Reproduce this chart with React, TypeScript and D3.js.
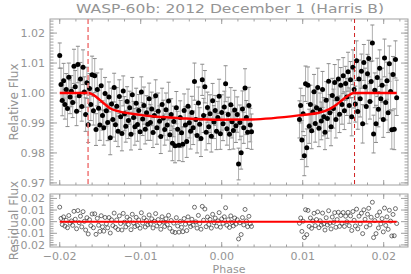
import React from 'react';
import * as d3 from 'd3';

const TITLE = 'WASP-60b: 2012 December 1 (Harris B)';

// pre-gap part of the light curve
const PHASE_A = [
  -0.02000, -0.01984, -0.01968, -0.01952, -0.01936, -0.01920, -0.01904, -0.01888, -0.01872, -0.01856,
  -0.01840, -0.01824, -0.01808, -0.01792, -0.01776, -0.01760, -0.01744, -0.01728, -0.01712, -0.01696,
  -0.01680, -0.01664, -0.01648, -0.01632, -0.01616, -0.01600, -0.01584, -0.01568, -0.01552, -0.01536,
  -0.01520, -0.01504, -0.01488, -0.01472, -0.01456, -0.01440, -0.01424, -0.01408, -0.01392, -0.01376,
  -0.01360, -0.01344, -0.01328, -0.01312, -0.01296, -0.01280, -0.01264, -0.01248, -0.01232, -0.01216,
  -0.01200, -0.01184, -0.01168, -0.01152, -0.01136, -0.01120, -0.01104, -0.01088, -0.01072, -0.01056,
  -0.01040, -0.01024, -0.01008, -0.00992, -0.00976, -0.00960, -0.00944, -0.00928, -0.00912, -0.00896,
  -0.00880, -0.00864, -0.00848, -0.00832, -0.00816, -0.00800, -0.00784, -0.00768, -0.00752, -0.00736,
  -0.00720, -0.00704, -0.00688, -0.00672, -0.00656, -0.00640, -0.00624, -0.00608, -0.00592, -0.00576,
  -0.00560, -0.00544, -0.00528, -0.00512, -0.00496, -0.00480, -0.00464, -0.00448, -0.00432, -0.00416,
  -0.00400, -0.00384, -0.00368, -0.00352, -0.00336, -0.00320, -0.00304, -0.00288, -0.00272, -0.00256,
  -0.00240, -0.00224, -0.00208, -0.00192, -0.00176, -0.00160, -0.00144, -0.00128, -0.00112, -0.00096,
  -0.00080, -0.00064, -0.00048, -0.00032, -0.00016, 0.00000, 0.00016, 0.00032, 0.00048, 0.00064,
  0.00080, 0.00096, 0.00112, 0.00128, 0.00144, 0.00160, 0.00176, 0.00192, 0.00208, 0.00224,
  0.00240, 0.00256, 0.00272, 0.00288, 0.00304, 0.00320, 0.00336, 0.00352, 0.00368,
];
const FLUX_A = [
  1.0125, 1.0028, 0.9975, 1.0041, 0.9962, 1.0012, 0.9948, 1.0053, 0.9987, 1.0006,
  0.9968, 1.0089, 1.0021, 0.9939, 1.0095, 0.9991, 1.0047, 0.9955, 1.0086, 1.0003,
  0.9928, 1.0034, 0.9894, 1.0015, 0.9962, 1.0061, 0.9941, 1.0058, 0.9878, 1.0012,
  0.9949, 0.9893, 1.0024, 0.9925, 0.9884, 0.9998, 0.9941, 0.9902, 0.9987, 0.9851,
  0.9963, 0.9912, 1.0018, 0.9894, 0.9956, 0.9872, 0.9988, 0.9921, 0.9865, 1.0007,
  0.9931, 0.9889, 0.9972, 0.9908, 0.9951, 0.9862, 0.9994, 0.9918, 0.9887, 0.9966,
  0.9895, 0.9942, 0.9871, 1.0003, 0.9913, 0.9958, 0.9879, 0.9934, 0.9896, 0.9981,
  0.9902, 0.9947, 0.9868, 0.9925, 0.9991, 0.9884, 0.9939, 0.9906, 0.9855, 0.9962,
  0.9917, 0.9878, 0.9944, 0.9893, 0.9973, 0.9861, 0.9928, 0.9832, 0.9905, 0.9824,
  0.9951, 0.9879, 0.9826, 0.9918, 0.9867, 0.9829, 0.9942, 0.9893, 0.9838, 0.9956,
  0.9901, 0.9872, 0.9935, 0.9884, 1.0038, 0.9912, 0.9858, 0.9967, 0.9896, 0.9848,
  1.0044, 0.9925, 1.0021, 0.9869, 0.9952, 0.9887, 0.9931, 0.9856, 0.9974, 0.9903,
  0.9942, 0.9872, 0.9918, 0.9989, 0.9864, 0.9935, 0.9897, 0.9953, 1.0031, 0.9881,
  0.9928, 0.9862, 0.9961, 0.9904, 0.9875, 0.9943, 0.9891, 0.9928, 0.9763, 0.9902,
  0.9801, 0.9947, 0.9884, 1.0017, 0.9918, 0.9869, 0.9958, 0.9893, 0.9871,
];
const ERR_A = [
  0.0042, 0.0055, 0.0051, 0.0058, 0.0049, 0.0053, 0.0060, 0.0047, 0.0056, 0.0052,
  0.0050, 0.0057, 0.0054, 0.0048, 0.0061, 0.0053, 0.0055, 0.0049, 0.0058, 0.0051,
  0.0056, 0.0052, 0.0059, 0.0050, 0.0054, 0.0062, 0.0048, 0.0057, 0.0053, 0.0055,
  0.0060, 0.0051, 0.0056, 0.0049, 0.0058, 0.0054, 0.0052, 0.0061, 0.0050, 0.0057,
  0.0053, 0.0059, 0.0048, 0.0055, 0.0062, 0.0051, 0.0056, 0.0054, 0.0058, 0.0050,
  0.0057, 0.0053, 0.0049, 0.0060, 0.0055, 0.0052, 0.0058, 0.0054, 0.0061, 0.0050,
  0.0056, 0.0053, 0.0059, 0.0051, 0.0055, 0.0062, 0.0049, 0.0057, 0.0054, 0.0052,
  0.0060, 0.0056, 0.0050, 0.0058, 0.0053, 0.0055, 0.0061, 0.0051, 0.0057, 0.0054,
  0.0059, 0.0052, 0.0056, 0.0050, 0.0063, 0.0055, 0.0053, 0.0058, 0.0051, 0.0057,
  0.0054, 0.0060, 0.0052, 0.0056, 0.0049, 0.0058, 0.0055, 0.0061, 0.0053, 0.0057,
  0.0051, 0.0059, 0.0054, 0.0056, 0.0062, 0.0050, 0.0058, 0.0053, 0.0055, 0.0060,
  0.0052, 0.0057, 0.0054, 0.0059, 0.0051, 0.0056, 0.0063, 0.0053, 0.0058, 0.0055,
  0.0050, 0.0061, 0.0054, 0.0057, 0.0052, 0.0059, 0.0056, 0.0053, 0.0060, 0.0055,
  0.0058, 0.0051, 0.0057, 0.0054, 0.0062, 0.0066, 0.0056, 0.0059, 0.0053, 0.0058,
  0.0055, 0.0060, 0.0052, 0.0064, 0.0057, 0.0054, 0.0061, 0.0056, 0.0059,
];

// post-gap part
const PHASE_B = [
  0.00960, 0.00975, 0.00990, 0.01005, 0.01020, 0.01035, 0.01050, 0.01065, 0.01080, 0.01095,
  0.01110, 0.01125, 0.01140, 0.01155, 0.01170, 0.01185, 0.01200, 0.01215, 0.01230, 0.01245,
  0.01260, 0.01275, 0.01290, 0.01305, 0.01320, 0.01335, 0.01350, 0.01365, 0.01380, 0.01395,
  0.01410, 0.01425, 0.01440, 0.01455, 0.01470, 0.01485, 0.01500, 0.01515, 0.01530, 0.01545,
  0.01560, 0.01575, 0.01590, 0.01605, 0.01620, 0.01635, 0.01650, 0.01665, 0.01680, 0.01695,
  0.01710, 0.01725, 0.01740, 0.01755, 0.01770, 0.01785, 0.01800, 0.01815, 0.01830, 0.01845,
  0.01860, 0.01875, 0.01890, 0.01905, 0.01920, 0.01935, 0.01950, 0.01965, 0.01980, 0.01995,
  0.02010, 0.02025, 0.02040, 0.02055, 0.02070, 0.02085, 0.02100, 0.02115, 0.02130, 0.02145,
  0.02160,
];
const FLUX_B = [
  0.9912, 0.9958, 0.9843, 0.9931, 0.9791, 1.0031, 0.9817, 1.0026, 0.9889, 0.9962,
  0.9874, 0.9937, 1.0004, 0.9898, 0.9951, 1.0018, 0.9882, 0.9943, 0.9907, 1.0012,
  0.9921, 0.9869, 0.9976, 0.9915, 1.0039, 0.9934, 0.9887, 0.9992, 0.9948, 1.0035,
  0.9912, 0.9981, 1.0047, 0.9929, 1.0026, 0.9962, 1.0058, 0.9941, 1.0032, 0.9987,
  1.0071, 0.9958, 1.0044, 0.9921, 1.0086, 1.0012, 0.9963, 1.0108, 0.9938, 1.0047,
  0.9981, 1.0073, 0.9897, 1.0102, 1.0021, 0.9955, 1.0064, 1.0115, 0.9972, 1.0038,
  1.0167, 0.9863, 1.0009, 0.9897, 1.0052, 0.9946, 1.0083, 0.9981, 1.0026, 0.9912,
  1.0117, 0.9968, 1.0041, 0.9934, 1.0098, 1.0005, 0.9877, 1.0062, 0.9879, 1.0112,
  0.9984,
];
const ERR_B = [
  0.0062, 0.0058, 0.0065, 0.0060, 0.0067, 0.0059, 0.0063, 0.0061, 0.0057, 0.0064,
  0.0060, 0.0066, 0.0058, 0.0062, 0.0059, 0.0065, 0.0061, 0.0057, 0.0063, 0.0060,
  0.0064, 0.0058, 0.0062, 0.0066, 0.0059, 0.0061, 0.0063, 0.0057, 0.0065, 0.0060,
  0.0062, 0.0058, 0.0064, 0.0061, 0.0059, 0.0066, 0.0060, 0.0063, 0.0057, 0.0062,
  0.0065, 0.0059, 0.0061, 0.0064, 0.0058, 0.0062, 0.0060, 0.0066, 0.0059, 0.0063,
  0.0061, 0.0057, 0.0064, 0.0060, 0.0062, 0.0058, 0.0065, 0.0061, 0.0059, 0.0067,
  0.0060, 0.0063, 0.0058, 0.0062, 0.0064, 0.0059, 0.0061, 0.0065, 0.0057, 0.0060,
  0.0063, 0.0058, 0.0062, 0.0066, 0.0059, 0.0061, 0.0064, 0.0060, 0.0068, 0.0062,
  0.0059,
];

// transit model
const MODEL_PHASE = [
  -0.0200, -0.0165, -0.0158, -0.0151, -0.0144, -0.0138, -0.0126, -0.0114, -0.0101, -0.0089,
  -0.0052, -0.0011, 0.0037, 0.0100, 0.0120, 0.0133, 0.0142, 0.0149, 0.0156, 0.0163, 0.0216,
];
const MODEL_FLUX = [
  1.0000, 1.0000, 0.9993, 0.9978, 0.9962, 0.9949, 0.9938, 0.9932, 0.9927, 0.9923,
  0.9916, 0.9911, 0.9912, 0.9927, 0.9934, 0.9946, 0.9962, 0.9977, 0.9991, 1.0000, 1.0000,
];

const CONTACTS = [-0.0165, 0.0164];
const X_TICKS = [-0.02, -0.01, 0, 0.01, 0.02];
const FLUX_TICKS = [0.97, 0.98, 0.99, 1.0, 1.01, 1.02];
const RESID_TICKS = [-0.02, -0.01, 0, 0.01, 0.02];

const W = 411;
const H = 274;
const L = 50;
const R = 408;
const TOP = [19, 185];
const BOT = [194, 247];
const AXIS = '#a0a0a0';
const TEXT = '#949494';
const FONT = 'DejaVu Sans, sans-serif';

const x = d3.scaleLinear().domain([-0.0212, 0.023]).range([L, R]);
const yTop = d3.scaleLinear().domain([0.9693, 1.0247]).range([TOP[1], TOP[0]]);
const yBot = d3.scaleLinear().domain([-0.0218, 0.0238]).range([BOT[1], BOT[0]]);
const model = d3.scaleLinear().domain(MODEL_PHASE).range(MODEL_FLUX);
const fmt = d3.format('.2f');

const points = [
  ...PHASE_A.map((p, i) => ({ p, f: FLUX_A[i], e: ERR_A[i] })),
  ...PHASE_B.map((p, i) => ({ p, f: FLUX_B[i], e: ERR_B[i] })),
];

const Frame = ({ y, y0, y1, major, minorStep }) => {
  const xMinor = d3.range(-0.02, 0.0225, 0.002);
  const [d0, d1] = y.domain();
  const yMinor = d3.range(Math.ceil(d0 / minorStep) * minorStep, d1, minorStep);
  return (
    <g stroke={AXIS} strokeWidth={1} fill="none">
      <rect x={L} y={y0} width={R - L} height={y1 - y0} />
      {xMinor.map((v, i) => (
        <g key={'xm' + i}>
          <line x1={x(v)} x2={x(v)} y1={y1} y2={y1 - 2.5} />
          <line x1={x(v)} x2={x(v)} y1={y0} y2={y0 + 2.5} />
        </g>
      ))}
      {X_TICKS.map((v, i) => (
        <g key={'xM' + i}>
          <line x1={x(v)} x2={x(v)} y1={y1} y2={y1 - 5} />
          <line x1={x(v)} x2={x(v)} y1={y0} y2={y0 + 5} />
        </g>
      ))}
      {yMinor.map((v, i) => (
        <g key={'ym' + i}>
          <line x1={L} x2={L + 3.5} y1={y(v)} y2={y(v)} />
          <line x1={R} x2={R - 3.5} y1={y(v)} y2={y(v)} />
        </g>
      ))}
      {major.map((v, i) => (
        <g key={'yM' + i}>
          <line x1={L} x2={L + 7} y1={y(v)} y2={y(v)} />
          <line x1={R} x2={R - 7} y1={y(v)} y2={y(v)} />
        </g>
      ))}
    </g>
  );
};

export default function App() {
  const modelLine = d3
    .line<number>()
    .x((p) => x(p))
    .y((p, i) => yTop(MODEL_FLUX[i]))
    .curve(d3.curveMonotoneX)(MODEL_PHASE);
  const zeroLine = d3
    .line<number>()
    .x((p) => x(p))
    .y(() => yBot(0))([PHASE_A[0], PHASE_B[PHASE_B.length - 1]]);

  return (
    <svg width={W} height={H} style={{ position: 'absolute', left: 0, top: 0, background: '#fff' }} fontFamily={FONT}>
      <text x={(L + R) / 2 + 1} y={13} textAnchor="middle" fontSize={13} fill={TEXT} textLength={308} lengthAdjust="spacingAndGlyphs">
        {TITLE}
      </text>

      {/* top panel */}
      <Frame y={yTop} y0={TOP[0]} y1={TOP[1]} major={FLUX_TICKS} minorStep={0.001} />
      <g stroke="#b0b0b0" strokeWidth={1}>
        {points.map((d, i) => (
          <g key={i}>
            <line x1={x(d.p)} x2={x(d.p)} y1={yTop(d.f - d.e)} y2={yTop(d.f + d.e)} />
            <line x1={x(d.p) - 2} x2={x(d.p) + 2} y1={yTop(d.f - d.e)} y2={yTop(d.f - d.e)} stroke="#8a8a8a" />
            <line x1={x(d.p) - 2} x2={x(d.p) + 2} y1={yTop(d.f + d.e)} y2={yTop(d.f + d.e)} stroke="#8a8a8a" />
          </g>
        ))}
      </g>
      <g fill="#000">
        {points.map((d, i) => (
          <circle key={i} cx={x(d.p)} cy={yTop(d.f)} r={2.5} />
        ))}
      </g>
      <path d={modelLine} fill="none" stroke="#ff0000" strokeWidth={2.5} />
      <line x1={x(CONTACTS[0])} x2={x(CONTACTS[0])} y1={TOP[0]} y2={TOP[1]} stroke="#f07878" strokeWidth={1.5} strokeDasharray="5,3" />
      <line x1={x(CONTACTS[1])} x2={x(CONTACTS[1])} y1={TOP[0]} y2={TOP[1]} stroke="#d02020" strokeWidth={1} strokeDasharray="4,3" />
      {FLUX_TICKS.map((v) => (
        <text key={v} x={45} y={yTop(v) + 4} textAnchor="end" fontSize={11} fill={TEXT}>
          {fmt(v)}
        </text>
      ))}
      <text transform={`translate(18,${(TOP[0] + TOP[1]) / 2}) rotate(-90)`} textAnchor="middle" fontSize={12} fill={TEXT}>
        Relative Flux
      </text>

      {/* residual panel */}
      <Frame y={yBot} y0={BOT[0]} y1={BOT[1]} major={RESID_TICKS} minorStep={0.002} />
      <g fill="none" stroke="#333" strokeWidth={0.7}>
        {points.map((d, i) => (
          <circle key={i} cx={x(d.p)} cy={yBot(d.f - model(d.p))} r={2} />
        ))}
      </g>
      <path d={zeroLine} stroke="#ff0000" strokeWidth={2} />
      {RESID_TICKS.map((v) => (
        <text key={v} x={45} y={yBot(v) + 4} textAnchor="end" fontSize={11} fill={TEXT}>
          {fmt(v)}
        </text>
      ))}
      <text transform={`translate(18,${(BOT[0] + BOT[1]) / 2}) rotate(-90)`} textAnchor="middle" fontSize={12} fill={TEXT}>
        Residual Flux
      </text>
      {X_TICKS.map((v) => (
        <text key={v} x={x(v)} y={259.5} textAnchor="middle" fontSize={11} fill={TEXT}>
          {fmt(v)}
        </text>
      ))}
      <text x={(L + R) / 2} y={272.5} textAnchor="middle" fontSize={11} fill={TEXT}>
        Phase
      </text>
    </svg>
  );
}
